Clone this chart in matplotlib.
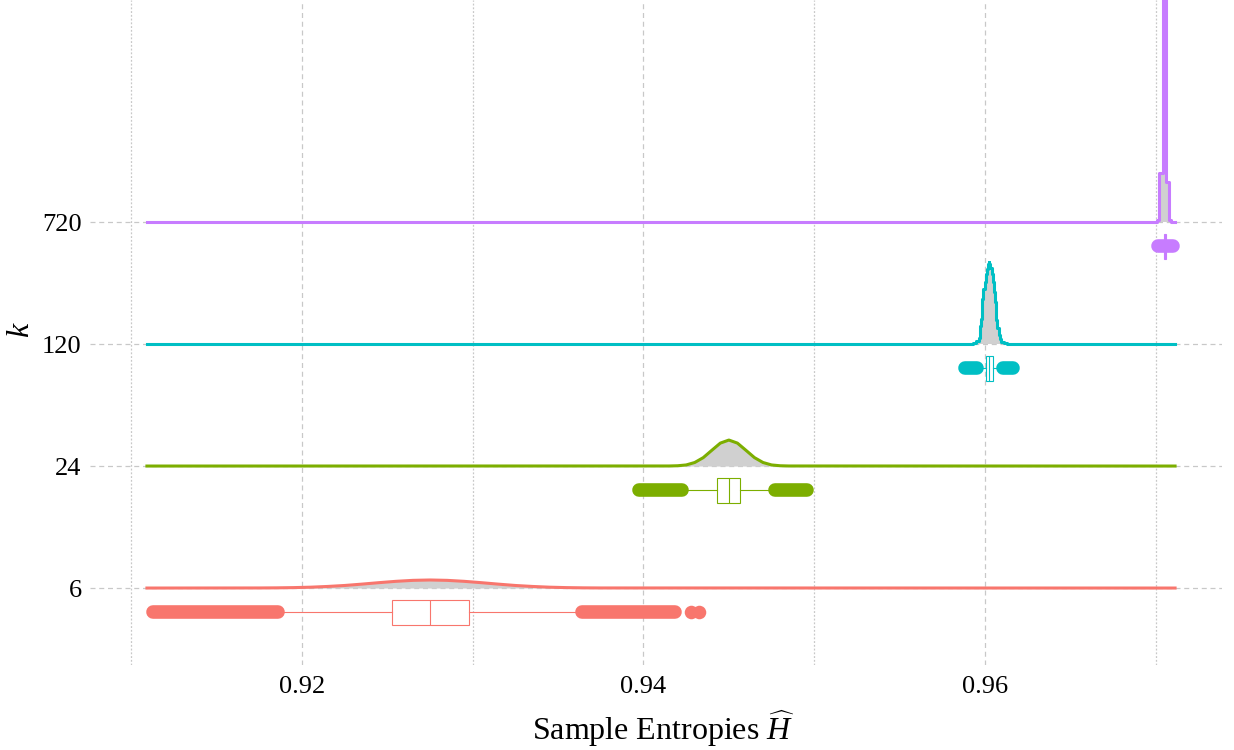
import matplotlib
matplotlib.use('Agg')
import matplotlib.pyplot as plt

plt.rcParams['font.family'] = ['Liberation Serif', 'DejaVu Serif']
plt.rcParams['mathtext.fontset'] = 'custom'
plt.rcParams['mathtext.rm'] = 'Liberation Serif'
plt.rcParams['mathtext.it'] = 'Liberation Serif:italic'

# ridge levels (k) and colours
k_labels = ['6', '24', '120', '720']
colors = ['#F8766D', '#7CAE00', '#00BFC4', '#C77CFF']
x_start = 0.91092
x_end = 0.97113

# density outlines (x, height in ridge units)
dens_x = [
    [0.9175, 0.9185, 0.9195, 0.9205, 0.9215, 0.9225, 0.9235, 0.9245, 0.9255, 0.9265,
     0.9275, 0.9285, 0.9295, 0.9305, 0.9315, 0.9325, 0.9335, 0.9345, 0.9355, 0.9365, 0.9375],
    [0.9415, 0.9420, 0.9425, 0.9430, 0.9435, 0.9440, 0.9445, 0.9450, 0.9455, 0.9460,
     0.9465, 0.9470, 0.9475, 0.9480, 0.9485],
    [0.95924, 0.95941, 0.95959, 0.95965, 0.95971, 0.95977, 0.95982, 0.95988, 0.95994,
     0.96000, 0.96006, 0.96012, 0.96018, 0.96023, 0.96029, 0.96035, 0.96041, 0.96047,
     0.96053, 0.96059, 0.96064, 0.96070, 0.96076, 0.96082, 0.96088, 0.96100, 0.96117, 0.96135],
    [0.96996, 0.97013, 0.97025, 0.97037, 0.97043, 0.97054, 0.97060, 0.97066, 0.97075,
     0.97081, 0.97095],
]
dens_h = [
    [0.0007, 0.0016, 0.0035, 0.007, 0.013, 0.021, 0.032, 0.044, 0.055, 0.063,
     0.066, 0.063, 0.055, 0.044, 0.032, 0.021, 0.013, 0.007, 0.0035, 0.0016, 0.0007],
    [0.0005, 0.0024, 0.009, 0.029, 0.069, 0.129, 0.188, 0.213, 0.188, 0.129,
     0.069, 0.029, 0.009, 0.0024, 0.0005],
    [0.0, 0.008, 0.025, 0.049, 0.148, 0.205, 0.287, 0.369, 0.451, 0.508, 0.574, 0.615,
     0.656, 0.672, 0.656, 0.623, 0.574, 0.508, 0.426, 0.344, 0.270, 0.197, 0.131, 0.074,
     0.041, 0.016, 0.008, 0.0],
    [0.0, 0.016, 0.40, 0.40, 2.6, 2.6, 0.33, 0.33, 0.33, 0.016, 0.0],
]
stepped = [False, False, True, True]

# box plot stats
q1 = [0.92527, 0.94430, 0.96006, 0.97050]
med = [0.92750, 0.94501, 0.96023, 0.97054]
q3 = [0.92978, 0.94565, 0.96047, 0.97058]
whislo = [0.91895, 0.94261, 0.95988, 0.97045]
whishi = [0.93605, 0.94735, 0.96070, 0.97062]
# outlier runs (dense points) and single outliers
outlier_runs = [
    [(0.91127, 0.91859), (0.93640, 0.94184)],
    [(0.93974, 0.94225), (0.94770, 0.94957)],
    [(0.95883, 0.95953), (0.96105, 0.96164)],
    [(0.97013, 0.97101)],
]
outlier_single = [[0.94278, 0.94325], [], [], []]

fig = plt.figure(figsize=(12.34, 7.5), dpi=100)
ax = fig.add_axes([0.0729, 0.1133, 0.9174, 0.8867])

grid_c = '#C8C8C8'
for v in [0.92, 0.94, 0.96]:
    ax.axvline(v, color=grid_c, lw=0.9, ls=(0, (4, 3)), zorder=0)
for v in [0.91, 0.93, 0.95, 0.97]:
    ax.axvline(v, color=grid_c, lw=0.9, ls=(0, (1.5, 1.5)), zorder=0)
for i in range(4):
    ax.axhline(i + 1, color=grid_c, lw=0.9, ls=(0, (4, 3)), zorder=0)

for i in range(4):
    lev = i + 1
    xs = [x_start] + dens_x[i] + [x_end]
    hs = [0.0] + dens_h[i] + [0.0]
    ys = [lev + h for h in hs]
    ds = 'steps-mid' if stepped[i] else 'default'
    st = 'mid' if stepped[i] else None
    ax.fill_between(xs, lev, ys, color='#D0D0D0', step=st, lw=0, zorder=2)
    ax.plot(xs, ys, color=colors[i], lw=2.2, drawstyle=ds, zorder=3)

    pos = lev - 0.2
    stats = [{'med': med[i], 'q1': q1[i], 'q3': q3[i], 'whislo': whislo[i],
              'whishi': whishi[i], 'fliers': []}]
    ax.bxp(stats, positions=[pos], widths=0.2, orientation='horizontal',
           showcaps=False, showfliers=False, patch_artist=True,
           boxprops=dict(facecolor='white', edgecolor=colors[i], lw=0.8),
           whiskerprops=dict(color=colors[i], lw=0.8),
           medianprops=dict(color=colors[i], lw=0.8), manage_ticks=False)
    for a, b in outlier_runs[i]:
        ax.plot([a, b], [pos, pos], color=colors[i], lw=9.8,
                solid_capstyle='round', zorder=4)
    if outlier_single[i]:
        ax.scatter(outlier_single[i], [pos] * len(outlier_single[i]),
                   s=95, color=colors[i], lw=0, zorder=4)

ax.set_xlim(0.907584, 0.97388)
ax.set_ylim(0.369, 5.82)
ax.set_xticks([0.92, 0.94, 0.96])
ax.set_xticklabels(['0.92', '0.94', '0.96'])
ax.set_yticks([1, 2, 3, 4])
ax.set_yticklabels(k_labels)
ax.tick_params(length=0, labelsize=19, pad=8)
ax.tick_params(axis='y', pad=6)
for s in ax.spines.values():
    s.set_visible(False)
ax.set_xlabel(r'Sample Entropies $\widehat{H}$', fontsize=23)
ax.xaxis.set_label_coords(0.506, -0.066, transform=ax.transAxes)
ax.xaxis.label.set_va('top')
ax.set_ylabel(r'$k$', fontsize=23)
ax.yaxis.set_label_coords(-0.048, 0.505, transform=ax.transAxes)

fig.savefig('out.png', dpi=100)
